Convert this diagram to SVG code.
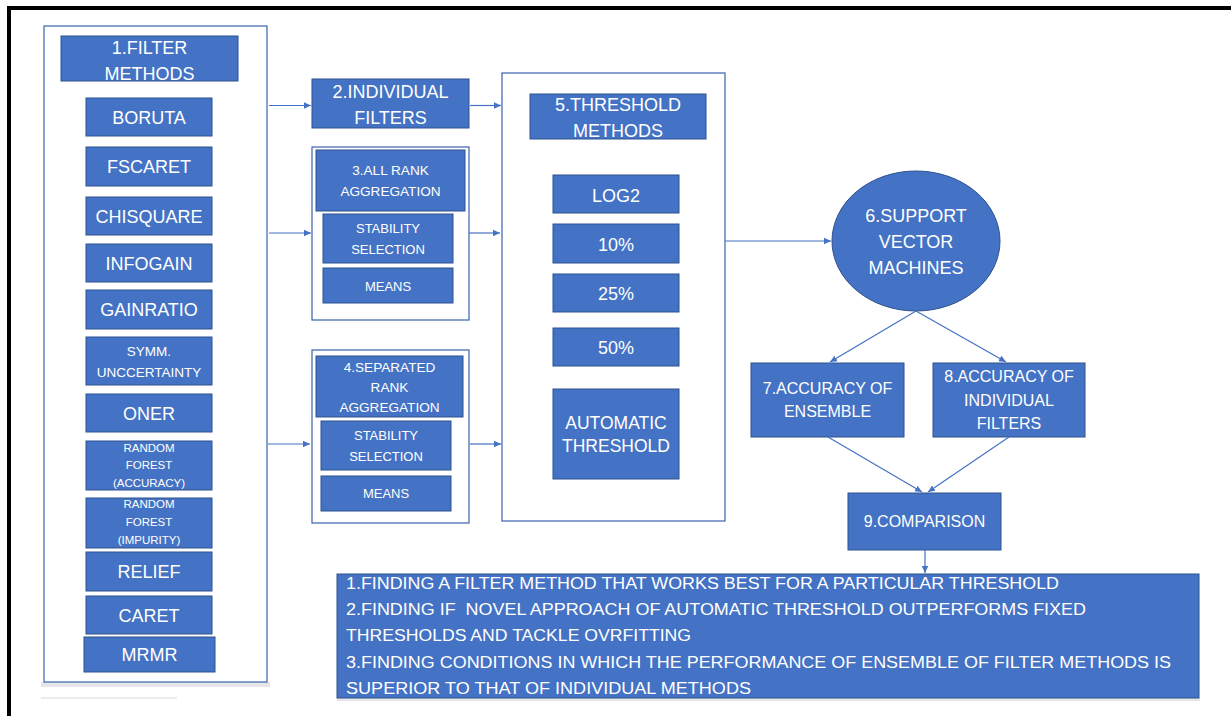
<svg xmlns="http://www.w3.org/2000/svg" width="1231" height="716" viewBox="0 0 1231 716">
<defs>
<marker id="ah" markerUnits="userSpaceOnUse" markerWidth="8" markerHeight="8" refX="7" refY="4" orient="auto">
<path d="M0,0.8 L7,4 L0,7.2 z" fill="#4472C4"/>
</marker>
<style>
.box{fill:#4472C4;stroke:#2F528F;stroke-width:1}
.cont{fill:#ffffff;stroke:#3A62AD;stroke-width:1.2}
.t{fill:#ffffff;font-family:"Liberation Sans",Arial,sans-serif;text-anchor:middle}
.tl{fill:#ffffff;font-family:"Liberation Sans",Arial,sans-serif;font-size:17px}
.c{stroke:#4472C4;stroke-width:1.2;fill:none;marker-end:url(#ah)}
</style>
</defs>
<rect width="1231" height="716" fill="#ffffff"/>
<rect x="7" y="6" width="1224" height="4" fill="#000"/>
<rect x="7" y="6" width="4" height="710" fill="#000"/>
<rect x="41" y="682" width="229" height="5" fill="#e6e6e6"/>
<rect x="41" y="697" width="136" height="2" fill="#ececec"/>
<rect x="337" y="698" width="863" height="3" fill="#e6e6e6"/>

<g id="n1">
<rect class="cont" x="44" y="26" width="223" height="656"/>
<rect class="box" x="61" y="36" width="177" height="45"/>
<text class="t" font-size="18" x="149.5" y="53.5">1.FILTER</text>
<text class="t" font-size="18" x="149.5" y="79.5">METHODS</text>
<rect class="box" x="86" y="98" width="126" height="38"/>
<text class="t" font-size="18" x="149" y="123.5">BORUTA</text>
<rect class="box" x="86" y="147" width="126" height="39"/>
<text class="t" font-size="18" x="149" y="173">FSCARET</text>
<rect class="box" x="86" y="197" width="126" height="38"/>
<text class="t" font-size="18" x="149" y="222.5">CHISQUARE</text>
<rect class="box" x="86" y="244" width="126" height="38"/>
<text class="t" font-size="18" x="149" y="269.5">INFOGAIN</text>
<rect class="box" x="86" y="290" width="126" height="39"/>
<text class="t" font-size="18" x="149" y="316">GAINRATIO</text>
<rect class="box" x="86" y="337" width="126" height="48"/>
<text class="t" font-size="13.5" x="149" y="355.5">SYMM.</text>
<text class="t" font-size="13.5" x="149" y="376.5">UNCCERTAINTY</text>
<rect class="box" x="86" y="394" width="126" height="38"/>
<text class="t" font-size="18" x="149" y="419.5">ONER</text>
<rect class="box" x="86" y="441" width="126" height="49"/>
<text class="t" font-size="11.5" x="149" y="452">RANDOM</text>
<text class="t" font-size="11.5" x="149" y="469">FOREST</text>
<text class="t" font-size="11.5" x="149" y="487">(ACCURACY)</text>
<rect class="box" x="86" y="498" width="126" height="50"/>
<text class="t" font-size="11.5" x="149" y="508">RANDOM</text>
<text class="t" font-size="11.5" x="149" y="526">FOREST</text>
<text class="t" font-size="11.5" x="149" y="544">(IMPURITY)</text>
<rect class="box" x="86" y="552" width="126" height="39"/>
<text class="t" font-size="18" x="149" y="578">RELIEF</text>
<rect class="box" x="86" y="596" width="126" height="38"/>
<text class="t" font-size="18" x="149" y="621.5">CARET</text>
<rect class="box" x="84" y="637" width="131" height="35"/>
<text class="t" font-size="18" x="149.5" y="661">MRMR</text>
</g>

<g id="n2">
<rect class="box" x="312" y="79" width="157" height="49"/>
<text class="t" font-size="18" x="390.5" y="98">2.INDIVIDUAL</text>
<text class="t" font-size="18" x="390.5" y="123.5">FILTERS</text>
</g>

<g id="n3">
<rect class="cont" x="312" y="147" width="157" height="173"/>
<rect class="box" x="316" y="150" width="149" height="61"/>
<text class="t" font-size="13.6" x="390.5" y="175">3.ALL RANK</text>
<text class="t" font-size="13.6" x="390.5" y="196">AGGREGATION</text>
<rect class="box" x="323" y="214" width="130" height="49"/>
<text class="t" font-size="13" x="388" y="232.5">STABILITY</text>
<text class="t" font-size="13" x="388" y="253.5">SELECTION</text>
<rect class="box" x="323" y="268" width="130" height="35"/>
<text class="t" font-size="13" x="388" y="290.5">MEANS</text>
</g>

<g id="n4">
<rect class="cont" x="312" y="350" width="157" height="173"/>
<rect class="box" x="316" y="356" width="147" height="61"/>
<text class="t" font-size="13.6" x="389.5" y="372">4.SEPARATED</text>
<text class="t" font-size="13.6" x="389.5" y="392">RANK</text>
<text class="t" font-size="13.6" x="389.5" y="412">AGGREGATION</text>
<rect class="box" x="321" y="421" width="130" height="49"/>
<text class="t" font-size="13" x="386" y="439.5">STABILITY</text>
<text class="t" font-size="13" x="386" y="460.5">SELECTION</text>
<rect class="box" x="321" y="476" width="130" height="35"/>
<text class="t" font-size="13" x="386" y="497.5">MEANS</text>
</g>

<g id="n5">
<rect class="cont" x="502" y="73" width="223" height="448"/>
<rect class="box" x="530" y="94" width="176" height="45"/>
<text class="t" font-size="18" x="618" y="110.5">5.THRESHOLD</text>
<text class="t" font-size="18" x="618" y="136.5">METHODS</text>
<rect class="box" x="553" y="175" width="126" height="38"/>
<text class="t" font-size="18" x="616" y="201.5">LOG2</text>
<rect class="box" x="553" y="224" width="126" height="39"/>
<text class="t" font-size="18" x="616" y="250.5">10%</text>
<rect class="box" x="553" y="274" width="126" height="38"/>
<text class="t" font-size="18" x="616" y="299.5">25%</text>
<rect class="box" x="553" y="328" width="126" height="38"/>
<text class="t" font-size="18" x="616" y="353.5">50%</text>
<rect class="box" x="553" y="389" width="126" height="90"/>
<text class="t" font-size="17.5" x="616" y="428.5">AUTOMATIC</text>
<text class="t" font-size="17.5" x="616" y="451.5">THRESHOLD</text>
</g>

<g id="n6">
<ellipse class="box" cx="916" cy="241" rx="84" ry="70"/>
<text class="t" font-size="18" x="916" y="221.5">6.SUPPORT</text>
<text class="t" font-size="18" x="916" y="248">VECTOR</text>
<text class="t" font-size="18" x="916" y="273.5">MACHINES</text>
</g>

<g id="n7">
<rect class="box" x="751" y="363" width="153" height="74"/>
<text class="t" font-size="16" x="827.5" y="393.5">7.ACCURACY OF</text>
<text class="t" font-size="16" x="827.5" y="416.5">ENSEMBLE</text>
</g>

<g id="n8">
<rect class="box" x="933" y="363" width="152" height="74"/>
<text class="t" font-size="16" x="1009" y="381.5">8.ACCURACY OF</text>
<text class="t" font-size="16" x="1009" y="405.5">INDIVIDUAL</text>
<text class="t" font-size="16" x="1009" y="428.5">FILTERS</text>
</g>

<g id="n9">
<rect class="box" x="848" y="493" width="153" height="57"/>
<text class="t" font-size="16" x="924.5" y="526.5">9.COMPARISON</text>
</g>

<g id="n10">
<rect class="box" x="337" y="574" width="862" height="124"/>
<text class="tl" x="346" y="589" textLength="713" lengthAdjust="spacingAndGlyphs">1.FINDING A FILTER METHOD THAT WORKS BEST FOR A PARTICULAR THRESHOLD</text>
<text class="tl" x="346" y="615" textLength="740" lengthAdjust="spacingAndGlyphs" xml:space="preserve">2.FINDING IF  NOVEL APPROACH OF AUTOMATIC THRESHOLD OUTPERFORMS FIXED</text>
<text class="tl" x="346" y="641" textLength="345" lengthAdjust="spacingAndGlyphs">THRESHOLDS AND TACKLE OVRFITTING</text>
<text class="tl" x="346" y="668" textLength="825" lengthAdjust="spacingAndGlyphs">3.FINDING CONDITIONS IN WHICH THE PERFORMANCE OF ENSEMBLE OF FILTER METHODS IS</text>
<text class="tl" x="346" y="694" textLength="405" lengthAdjust="spacingAndGlyphs">SUPERIOR TO THAT OF INDIVIDUAL METHODS</text>
</g>

<g id="connectors">
<line class="c" x1="269" y1="105.5" x2="311" y2="105.5"/>
<line class="c" x1="269" y1="233" x2="311" y2="233"/>
<line class="c" x1="268" y1="444" x2="310" y2="444"/>
<line class="c" x1="470" y1="105.5" x2="501" y2="105.5"/>
<line class="c" x1="469" y1="233" x2="500" y2="233"/>
<line class="c" x1="470" y1="444" x2="501" y2="444"/>
<line class="c" x1="725" y1="241" x2="831" y2="241"/>
<line class="c" x1="916" y1="311" x2="830" y2="362"/>
<line class="c" x1="916" y1="311" x2="1006" y2="362"/>
<line class="c" x1="828" y1="437" x2="922" y2="492"/>
<line class="c" x1="1009" y1="437" x2="928" y2="492"/>
<line class="c" x1="925" y1="550" x2="925" y2="573"/>
</g>
</svg>
